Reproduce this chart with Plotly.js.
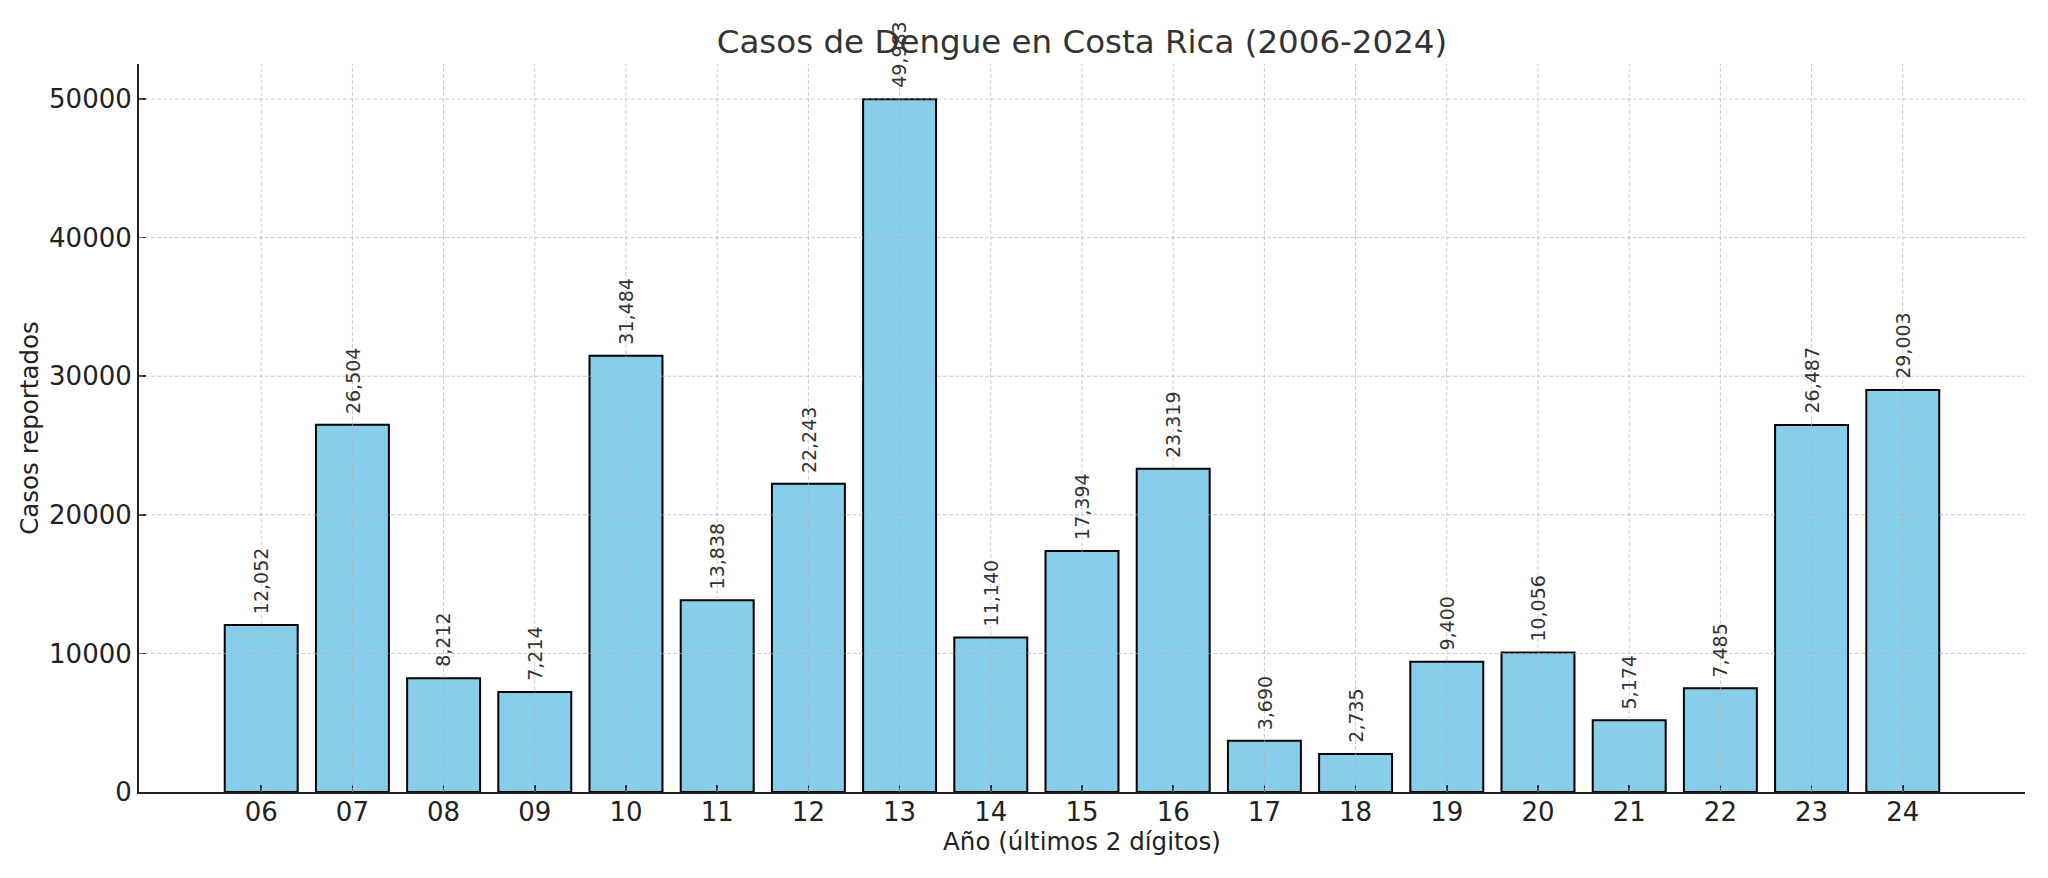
<!DOCTYPE html>
<html>
<head>
<meta charset="utf-8">
<script src="https://cdn.plot.ly/plotly-3.0.1.min.js"></script>
<style>
  body { margin: 0; background: #fff; }
  #chart { width: 2048px; height: 878px; }
</style>
</head>
<body>
<div id="chart"></div>
<script>
const years = ["06", "07", "08", "09", "10", "11", "12", "13", "14", "15",
               "16", "17", "18", "19", "20", "21", "22", "23", "24"];
const cases = [12052, 26504, 8212, 7214, 31484, 13838, 22243, 49983, 11140, 17394,
               23319, 3690, 2735, 9400, 10056, 5174, 7485, 26487, 29003];
const yTicks = [0, 10000, 20000, 30000, 40000, 50000];

const FONT = "DejaVu Sans, sans-serif";
const GRID = { color: "rgba(176, 176, 176, 0.65)", width: 1, dash: "4px,2px" };

// on a category axis, shapes and annotations want the category index
function gridShapes() {
    // matplotlib draws the grid over the bars, so use shapes on the top layer
    let shapes = [];
    years.forEach((y, i) => {
        shapes.push({
            type: "line", layer: "above",
            xref: "x", yref: "paper",
            x0: i, x1: i, y0: 0, y1: 1,
            line: GRID
        });
    });
    for (let t in yTicks) {
        if (yTicks[t] == 0) continue;
        shapes.push({
            type: "line", layer: "above",
            xref: "paper", yref: "y",
            x0: 0, x1: 1, y0: yTicks[t], y1: yTicks[t],
            line: GRID
        });
    }
    return shapes;
}

function barLabels() {
    return years.map((y, i) => ({
        x: i,
        y: cases[i],
        xref: "x", yref: "y",
        text: cases[i].toLocaleString("en-US"),
        textangle: -90,
        showarrow: false,
        xanchor: "center",
        yanchor: "bottom",
        yshift: 9,
        font: { family: FONT, size: 19, color: "#333333" }
    }));
}

function plotCases() {
    const bars = {
        x: years,
        y: cases,
        type: "bar",
        marker: {
            color: "#87ceeb",
            line: { color: "#000000", width: 2 }
        },
        hoverinfo: "none"
    };

    const axisCommon = {
        showline: true,
        linecolor: "#222222",
        linewidth: 2,
        ticks: "inside",
        ticklen: 7,
        tickwidth: 1.5,
        tickcolor: "#222222",
        showgrid: false,
        zeroline: false,
        tickfont: { family: FONT, size: 26, color: "#222222" },
        fixedrange: true
    };

    Plotly.newPlot("chart", [bars], {
        width: 2048,
        height: 878,
        plot_bgcolor: "#ffffff",
        paper_bgcolor: "#ffffff",
        showlegend: false,
        bargap: 0.2,
        margin: { l: 139, r: 23, t: 64, b: 86 },
        title: {
            text: "Casos de Dengue en Costa Rica (2006-2024)",
            font: { family: FONT, size: 32.5, color: "#333333" },
            x: 0.5,
            xref: "paper",
            y: 1 - 42 / 878,
            yanchor: "middle"
        },
        xaxis: Object.assign({}, axisCommon, {
            type: "category",
            range: [-1.34, 19.34],
            ticklabelstandoff: -4,
            title: {
                text: "Año (últimos 2 dígitos)",
                font: { family: FONT, size: 24.5, color: "#222222" },
                standoff: 2
            }
        }),
        yaxis: Object.assign({}, axisCommon, {
            range: [0, 52525],
            tickvals: yTicks,
            tickformat: "d",
            ticklabelstandoff: 0,
            title: {
                text: "Casos reportados",
                font: { family: FONT, size: 24.5, color: "#222222" },
                standoff: 4
            }
        }),
        shapes: gridShapes(),
        annotations: barLabels()
    }, {
        displayModeBar: false,
        staticPlot: true
    });
}

plotCases();
</script>
</body>
</html>
